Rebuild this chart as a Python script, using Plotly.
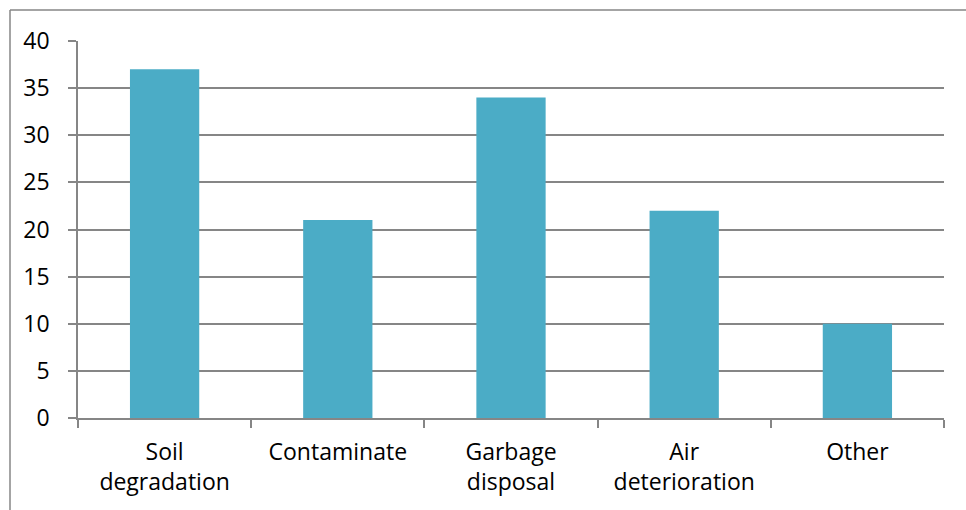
import plotly.graph_objects as go

categories = ["Soil<br>degradation", "Contaminate", "Garbage<br>disposal", "Air<br>deterioration", "Other"]
values = [37, 21, 34, 22, 10]
y_ticks = [0, 5, 10, 15, 20, 25, 30, 35, 40]

bar_color = "#4BACC6"
line_gray = "#868686"
font_family = "'Open Sans', 'Noto Sans', sans-serif"
font_size = 23

fig = go.Figure(
    go.Bar(
        x=categories,
        y=values,
        marker=dict(color=bar_color, line=dict(width=0)),
    )
)

fig.update_layout(
    width=966,
    height=510,
    margin=dict(l=78, r=22, t=41, b=92),
    paper_bgcolor="white",
    plot_bgcolor="white",
    bargap=0.6,
    showlegend=False,
    font=dict(family=font_family, size=font_size, color="black"),
    shapes=[
        # outer chart frame (top and left edges visible)
        dict(type="line", xref="paper", yref="paper",
             x0=-68 / 866, x1=1.1, y0=1 + 31 / 377, y1=1 + 31 / 377,
             line=dict(color=line_gray, width=1.5)),
        dict(type="line", xref="paper", yref="paper",
             x0=-68 / 866, x1=-68 / 866, y0=-0.3, y1=1 + 31 / 377,
             line=dict(color=line_gray, width=1.5)),
    ],
)

fig.update_xaxes(
    type="category",
    showgrid=False,
    showline=True,
    linecolor=line_gray,
    linewidth=1.5,
    ticks="outside",
    tickson="boundaries",
    ticklen=8,
    tickcolor=line_gray,
    tickwidth=1.5,
    ticklabelstandoff=13,
    tickfont=dict(family=font_family, size=font_size, color="black"),
)

fig.update_yaxes(
    range=[0, 40],
    tickvals=y_ticks,
    showgrid=True,
    gridcolor=line_gray,
    gridwidth=1.5,
    showline=True,
    linecolor=line_gray,
    linewidth=1.5,
    ticks="outside",
    ticklen=8,
    tickcolor=line_gray,
    tickwidth=1.5,
    ticklabelstandoff=14,
    zeroline=False,
    tickfont=dict(family=font_family, size=font_size, color="black"),
)

fig.write_html("out.html")
